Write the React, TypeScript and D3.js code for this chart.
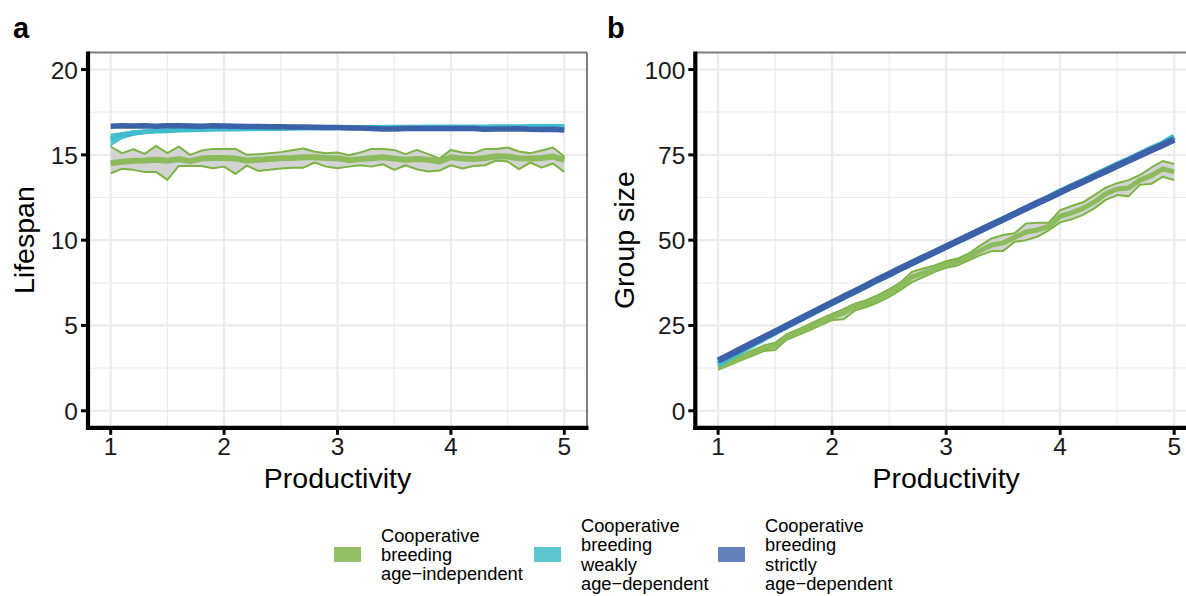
import React from "react";
import * as d3 from "d3";

// ---------- data ----------
const productivity = [1.0,1.1,1.2,1.3,1.4,1.5,1.6,1.7,1.8,1.9,2.0,2.1,2.2,2.3,2.4,2.5,2.6,2.7,2.8,2.9,3.0,3.1,3.2,3.3,3.4,3.5,3.6,3.7,3.8,3.9,4.0,4.1,4.2,4.3,4.4,4.5,4.6,4.7,4.8,4.9,5.0];

// Lifespan – age-independent
const lifeIndepMean = [14.51,14.59,14.65,14.67,14.71,14.65,14.75,14.63,14.78,14.82,14.82,14.78,14.67,14.71,14.75,14.80,14.82,14.86,14.86,14.82,14.80,14.69,14.75,14.80,14.86,14.78,14.71,14.76,14.71,14.61,14.86,14.78,14.75,14.82,14.92,14.90,14.80,14.78,14.82,14.90,14.71];
const lifeIndepUpper = [15.49,15.10,15.33,15.06,15.53,15.10,15.49,15.00,15.25,15.35,15.35,15.35,15.00,15.04,15.10,15.16,15.27,15.37,15.18,15.10,15.14,14.98,15.14,15.35,15.35,15.29,15.04,15.29,15.04,14.78,15.29,15.14,15.10,15.35,15.35,15.43,15.20,15.10,15.25,15.43,14.90];
const lifeIndepLower = [13.92,14.18,14.12,14.00,14.00,13.53,14.35,14.35,14.35,14.22,14.31,13.88,14.37,14.06,14.12,14.20,14.25,14.25,14.55,14.31,14.22,14.31,14.39,14.31,14.45,14.12,14.39,14.16,14.02,14.08,14.39,14.20,14.35,14.39,14.67,14.61,14.16,14.55,14.25,14.49,14.00];
// Lifespan – weakly age-dependent
const lifeWeakMean = [15.92,16.15,16.28,16.35,16.40,16.42,16.45,16.47,16.48,16.50,16.51,16.52,16.53,16.54,16.55,16.55,16.56,16.57,16.58,16.58,16.59,16.60,16.60,16.61,16.61,16.62,16.62,16.62,16.63,16.63,16.63,16.64,16.64,16.64,16.65,16.65,16.65,16.66,16.66,16.66,16.66];
const lifeWeakLower = [15.55,15.97,16.16,16.27,16.34,16.37,16.40,16.42,16.43,16.45,16.46,16.47,16.48,16.49,16.50,16.50,16.51,16.52,16.53,16.53,16.54,16.55,16.55,16.56,16.56,16.57,16.57,16.57,16.58,16.58,16.58,16.59,16.59,16.59,16.60,16.60,16.60,16.61,16.61,16.61,16.61];
const lifeWeakUpper = [16.20,16.30,16.40,16.43,16.46,16.47,16.50,16.52,16.53,16.55,16.56,16.57,16.58,16.59,16.60,16.60,16.61,16.62,16.63,16.63,16.64,16.65,16.65,16.66,16.66,16.67,16.67,16.67,16.68,16.68,16.68,16.69,16.69,16.69,16.70,16.70,16.70,16.71,16.71,16.71,16.71];
// Lifespan – strictly age-dependent
const lifeStrictMean = [16.68,16.70,16.69,16.70,16.68,16.70,16.71,16.69,16.68,16.70,16.69,16.67,16.66,16.66,16.65,16.65,16.64,16.63,16.62,16.60,16.60,16.58,16.58,16.55,16.52,16.52,16.55,16.55,16.54,16.55,16.55,16.54,16.55,16.50,16.52,16.52,16.53,16.50,16.48,16.50,16.45];

// Group size – age-independent
const groupIndepMean = [12.7,14.1,15.5,16.9,18.3,19.1,21.6,23.0,24.5,26.0,27.5,28.6,30.4,31.4,32.8,34.5,36.6,39.2,40.4,41.6,42.9,43.6,45.1,47.0,48.6,49.2,50.8,52.4,53.0,54.0,57.0,58.0,59.3,61.2,63.6,65.0,65.3,67.6,68.9,70.9,70.0];
const groupIndepUpper = [13.3,14.8,16.2,17.7,19.1,19.9,22.4,23.8,25.4,26.9,28.4,29.8,31.4,32.4,33.9,35.6,37.6,40.7,41.7,42.6,43.8,44.6,46.1,48.5,50.5,51.5,52.0,54.9,55.1,55.1,58.8,60.0,61.1,63.2,65.4,66.7,67.6,69.1,71.3,73.2,72.3];
const groupIndepLower = [12.0,13.4,14.8,16.1,17.5,17.8,20.8,22.2,23.6,25.1,26.6,26.8,29.4,30.4,31.7,33.4,35.4,37.7,39.2,40.7,41.9,42.6,44.1,45.6,46.8,46.8,49.5,50.0,51.0,52.9,55.2,56.1,57.4,59.3,61.8,63.2,62.9,66.2,66.5,68.6,67.6];
// Group size – weakly age-dependent
const groupWeakMean = [13.6,15.6,17.5,19.4,21.2,23.0,24.8,26.5,28.2,29.9,31.6,33.3,35.0,36.7,38.4,40.0,41.7,43.3,44.9,46.5,48.1,49.7,51.3,52.9,54.5,56.1,57.7,59.3,60.9,62.5,64.2,65.8,67.3,68.9,70.5,72.1,73.6,75.2,76.8,78.3,80.3];
// Group size – strictly age-dependent
const groupStrictMean = [14.7,16.4,18.1,19.8,21.5,23.2,24.9,26.6,28.3,30.0,31.7,33.4,35.0,36.7,38.4,40.0,41.7,43.3,44.9,46.5,48.1,49.7,51.3,52.9,54.5,56.1,57.7,59.3,60.9,62.4,64.0,65.6,67.1,68.7,70.2,71.8,73.3,74.9,76.4,77.9,79.5];

const xTicks = [1, 2, 3, 4, 5];
const lifeTicks = [0, 5, 10, 15, 20];
const groupTicks = [0, 25, 50, 75, 100];
const legendLabels = [
  ["Cooperative", "breeding", "age\u2212independent"],
  ["Cooperative", "breeding", "weakly", "age\u2212dependent"],
  ["Cooperative", "breeding", "strictly", "age\u2212dependent"],
];

// ---------- style ----------
const FONT = "'Liberation Sans', Arial, Helvetica, sans-serif";
const GREEN_LINE = "#7ab443";
const GREEN_MEAN = "#8bbb5b";
const CYAN = "#3fbccd";
const BLUE = "#3d61a8";
const LEGEND_FILL = ["#93c064", "#5bc5d1", "#6282b9"];
const GRID = "#ebebeb";

type TProps = { x: number; y: number; size: number; anchor?: string; weight?: string; rotate?: boolean; children: React.ReactNode; fill?: string };
function ST({ x, y, size, anchor = "start", weight = "normal", rotate = false, children, fill = "#000" }: TProps) {
  const tr = rotate ? `translate(${x},${y}) rotate(-90)` : `translate(${x},${y})`;
  return (
    <text transform={tr} fontSize={size} fontFamily={FONT} fontWeight={weight} textAnchor={anchor} fill={fill}>
      {children}
    </text>
  );
}

type Ser = { mean: number[]; upper?: number[]; lower?: number[]; color: string; meanColor: string; width: number; ribbonFill?: string; ribbonStroke?: number };

function Panel(props: {
  id: string; left: number; right: number; top: number; bottom: number;
  yDomain: [number, number]; yTicks: number[]; yTitle: string; titleX: number; tag: string; tagX: number; series: Ser[];
}) {
  const { id, left, right, top, bottom, yDomain, yTicks, yTitle, titleX, tag, tagX, series } = props;
  const x = d3.scaleLinear().domain([0.8, 5.2]).range([left, right]);
  const y = d3.scaleLinear().domain(yDomain).range([bottom, top]);
  const yStep = yTicks[1] - yTicks[0];
  const yMinor = yTicks.slice(0, -1).map((t) => t + yStep / 2);
  const xMinor = xTicks.slice(0, -1).map((t) => t + 0.5);
  const line = (vals: number[]) =>
    d3.line<number>().x((_, i) => x(productivity[i])).y((v) => y(v))(vals) || "";
  const area = (lo: number[], hi: number[]) =>
    d3.area<number>().x((_, i) => x(productivity[i])).y0((_, i) => y(lo[i])).y1((_, i) => y(hi[i]))(lo) || "";
  const clipRight = Math.min(right, 1186);
  return (
    <g>
      <defs>
        <clipPath id={`clip-${id}`}>
          <rect x={left} y={top} width={right - left} height={bottom - top} />
        </clipPath>
      </defs>
      {xMinor.map((t) => (
        <line key={"xm" + t} x1={x(t)} x2={x(t)} y1={top} y2={bottom} stroke={GRID} strokeWidth={1.2} />
      ))}
      {yMinor.map((t) => (
        <line key={"ym" + t} x1={left} x2={clipRight} y1={y(t)} y2={y(t)} stroke={GRID} strokeWidth={1.2} />
      ))}
      {xTicks.map((t) => (
        <line key={"xg" + t} x1={x(t)} x2={x(t)} y1={top} y2={bottom} stroke={GRID} strokeWidth={2.2} />
      ))}
      {yTicks.map((t) => (
        <line key={"yg" + t} x1={left} x2={clipRight} y1={y(t)} y2={y(t)} stroke={GRID} strokeWidth={2.2} />
      ))}
      <g clipPath={`url(#clip-${id})`}>
        {series.map((s, k) => (
          <g key={k}>
            {s.upper && s.lower && (
              <path d={area(s.lower, s.upper)} fill={s.ribbonFill || "#d3d3d3"} stroke="none" />
            )}
            {s.upper && s.lower && (s.ribbonStroke || 0) > 0 && (
              <>
                <path d={line(s.upper)} fill="none" stroke={s.color} strokeWidth={s.ribbonStroke} strokeLinejoin="round" />
                <path d={line(s.lower)} fill="none" stroke={s.color} strokeWidth={s.ribbonStroke} strokeLinejoin="round" />
              </>
            )}
            <path d={line(s.mean)} fill="none" stroke={s.meanColor} strokeWidth={s.width} strokeLinejoin="round" />
          </g>
        ))}
      </g>
      {/* panel border (top/right) */}
      <line x1={left} x2={right} y1={top} y2={top} stroke="#7f7f7f" strokeWidth={2} />
      <line x1={right} x2={right} y1={top} y2={bottom} stroke="#7f7f7f" strokeWidth={2} />
      {/* axis lines */}
      <line x1={left} x2={left} y1={top - 1} y2={bottom + 2} stroke="#000" strokeWidth={4.2} />
      <line x1={left - 2} x2={right + 1.5} y1={bottom} y2={bottom} stroke="#000" strokeWidth={4.2} />
      {/* ticks */}
      {yTicks.map((t) => (
        <line key={"yt" + t} x1={left - 7} x2={left} y1={y(t)} y2={y(t)} stroke="#000" strokeWidth={3} />
      ))}
      {xTicks.map((t) => (
        <line key={"xt" + t} x1={x(t)} x2={x(t)} y1={bottom} y2={bottom + 7} stroke="#000" strokeWidth={3} />
      ))}
      {yTicks.map((t) => (
        <ST key={"yl" + t} x={left - 10} y={y(t) + 9} size={24.5} anchor="end" fill="#1a1a1a">{t}</ST>
      ))}
      {xTicks.map((t) => (
        <ST key={"xl" + t} x={x(t)} y={bottom + 27.5} size={24.5} anchor="middle" fill="#1a1a1a">{t}</ST>
      ))}
      <ST x={x(3)} y={bottom + 60} size={28.5} anchor="middle">Productivity</ST>
      <ST x={titleX} y={(top + bottom) / 2} size={28.5} anchor="middle" rotate>{yTitle}</ST>
      <ST x={tagX} y={38} size={29} weight="bold">{tag}</ST>
    </g>
  );
}

export default function App() {
  const top = 52.5, bottom = 427.8;
  const lifeSeries: Ser[] = [
    { mean: lifeIndepMean, upper: lifeIndepUpper, lower: lifeIndepLower, color: GREEN_LINE, meanColor: GREEN_MEAN, width: 6, ribbonFill: "#d3d3d3", ribbonStroke: 2 },
    { mean: lifeWeakMean, upper: lifeWeakUpper, lower: lifeWeakLower, color: CYAN, meanColor: CYAN, width: 5, ribbonFill: "#5cc6d4", ribbonStroke: 1.5 },
    { mean: lifeStrictMean, color: BLUE, meanColor: BLUE, width: 5.5 },
  ];
  const groupSeries: Ser[] = [
    { mean: groupIndepMean, upper: groupIndepUpper, lower: groupIndepLower, color: GREEN_LINE, meanColor: GREEN_MEAN, width: 5, ribbonFill: "#d3d3d3", ribbonStroke: 2 },
    { mean: groupWeakMean, color: CYAN, meanColor: CYAN, width: 6.5 },
    { mean: groupStrictMean, color: BLUE, meanColor: BLUE, width: 6.5 },
  ];
  const keyX = [334, 534, 718];
  const keyY = 547, keyH = 15, keyW = 27, lh = 19.3;
  const keyC = keyY + keyH / 2;
  return (
    <svg width={1186} height={596} style={{ position: "absolute", left: 0, top: 0, background: "#fff" }}>
      <rect x={0} y={0} width={1186} height={596} fill="#fff" />
      <Panel id="a" left={88} right={587} top={top} bottom={bottom} yDomain={[-1, 21]} yTicks={lifeTicks} yTitle="Lifespan" titleX={34} tag="a" tagX={13} series={lifeSeries} />
      <Panel id="b" left={695.3} right={1197} top={top} bottom={bottom} yDomain={[-5, 105]} yTicks={groupTicks} yTitle="Group size" titleX={634} tag="b" tagX={607} series={groupSeries} />
      {legendLabels.map((lab, k) => {
        const n = lab.length;
        const first = keyC - ((n - 1) * lh) / 2 + 6.5;
        return (
          <g key={k}>
            <rect x={keyX[k]} y={keyY} width={keyW} height={keyH} fill={LEGEND_FILL[k]} />
            {lab.map((s, j) => (
              <ST key={j} x={keyX[k] + 47} y={first + j * lh} size={18.3}>{s}</ST>
            ))}
          </g>
        );
      })}
    </svg>
  );
}
